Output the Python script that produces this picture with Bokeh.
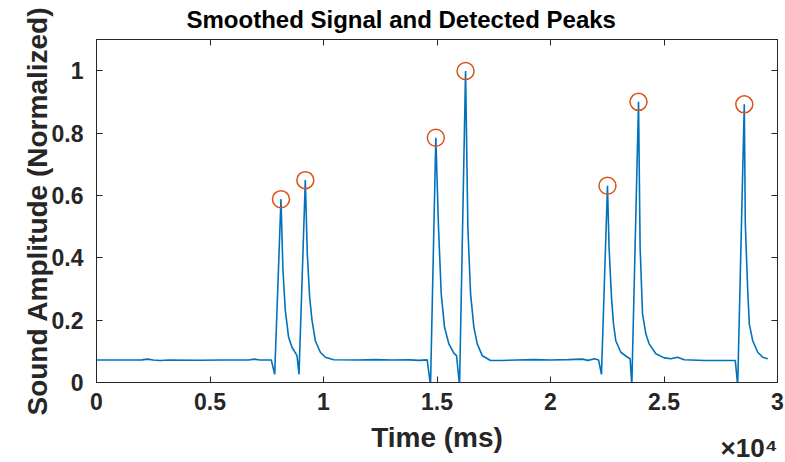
from bokeh.plotting import figure
from bokeh.models import (LinearAxis, FixedTicker, CustomJSTickFormatter, Range1d, Title)
from bokeh.embed import file_html
from bokeh.resources import INLINE

# ---- data ----
t_ms = [0, 1200, 2000, 2250, 2500, 2800, 3200, 4500, 5500, 6700, 6950, 7200, 7700,
        7850, 8127, 8215, 8317, 8463, 8612, 8833, 8921,
        9199, 9287, 9390, 9495, 9640, 9861, 10081, 10449,
        11500, 12300, 13000, 13800, 14200, 14568,
        14714, 14948, 15067, 15186, 15332, 15522, 15742, 15861, 15994,
        16258, 16360, 16479, 16625, 16773, 16994, 17360, 17802,
        18500, 19300, 20000, 20800, 21400, 21650, 21950, 22120,
        22245, 22510, 22580, 22687, 22775, 22876, 23097, 23392, 23507, 23582,
        23878, 23948, 24054, 24200, 24345, 24641, 25008, 25303, 25598, 25892,
        26775, 28141,
        28246, 28537, 28582, 28688, 28758, 28908, 29129, 29349, 29570]
amp = [0.072, 0.072, 0.0725, 0.075, 0.072, 0.0705, 0.072, 0.0715, 0.072, 0.072, 0.075, 0.072, 0.072,
       0.026, 0.588, 0.359, 0.231, 0.145, 0.113, 0.086, 0.026,
       0.649, 0.412, 0.273, 0.199, 0.134, 0.097, 0.081, 0.073,
       0.072, 0.0735, 0.072, 0.0725, 0.071, 0.0727,
       -0.01, 0.785, 0.497, 0.284, 0.177, 0.124, 0.094, 0.086, -0.01,
       0.999, 0.497, 0.284, 0.177, 0.124, 0.086, 0.0705, 0.0705,
       0.072, 0.0735, 0.072, 0.0735, 0.075, 0.071, 0.076, 0.072,
       0.026, 0.631, 0.433, 0.273, 0.188, 0.134, 0.097, 0.081, 0.076, -0.01,
       0.900, 0.433, 0.220, 0.156, 0.124, 0.092, 0.079, 0.076, 0.081, 0.073,
       0.0705, 0.0705,
       -0.01, 0.892, 0.508, 0.295, 0.188, 0.134, 0.097, 0.081, 0.076]

peak_t = [8127, 9199, 14948, 16258, 22510, 23878, 28537]
peak_amp = [0.588, 0.649, 0.785, 0.999, 0.631, 0.900, 0.892]

x_tick_vals = [0, 5000, 10000, 15000, 20000, 25000, 30000]
x_tick_labels = ["0", "0.5", "1", "1.5", "2", "2.5", "3"]
y_tick_vals = [0, 0.2, 0.4, 0.6, 0.8, 1.0]
y_tick_labels = ["0", "0.2", "0.4", "0.6", "0.8", "1"]

FONT = "Liberation Sans"
AX = "#262626"

p = figure(width=785, height=462, output_backend="svg", toolbar_location=None,
           x_range=Range1d(0, 30000), y_range=Range1d(0, 1.1),
           min_border_left=96, min_border_right=8, min_border_top=39, min_border_bottom=80,
           title="Smoothed Signal and Detected Peaks",
           x_axis_label="Time (ms)", y_axis_label="Sound Amplitude (Normalized)")

p.title.text_font = FONT
p.title.text_font_style = "bold"
p.title.text_font_size = "24px"
p.title.text_color = "#000000"
p.title.align = "left"
p.title.offset = 90
p.title.vertical_align = "top"
p.title.standoff = 9

p.outline_line_color = AX
p.outline_line_width = 1
p.xgrid.visible = False
p.ygrid.visible = False
p.background_fill_color = "white"
p.border_fill_color = "white"

def style_axis(ax, vals, labels, show_labels):
    ax.ticker = FixedTicker(ticks=vals)
    ax.formatter = CustomJSTickFormatter(args=dict(labs=labels if show_labels else [""] * len(labels)),
                                         code="return labs[index];")
    ax.major_tick_in = 6
    ax.major_tick_out = 0
    ax.minor_tick_in = 0
    ax.minor_tick_out = 0
    ax.axis_line_color = AX
    ax.major_tick_line_color = AX
    ax.major_label_text_font = FONT
    ax.major_label_text_font_style = "bold"
    ax.major_label_text_color = AX
    ax.axis_label_text_font = FONT
    ax.axis_label_text_font_style = "bold"
    ax.axis_label_text_color = AX
    if show_labels:
        ax.major_label_text_font_size = "23px"
        ax.axis_label_text_font_size = "28px"
    else:
        ax.major_label_text_font_size = "0px"
        ax.major_label_standoff = 0

xa = p.xaxis[0]
ya = p.yaxis[0]
style_axis(xa, x_tick_vals, x_tick_labels, True)
style_axis(ya, y_tick_vals, y_tick_labels, True)
xa.major_label_standoff = 10
xa.axis_label_standoff = 9
ya.major_label_standoff = 13
ya.axis_label_standoff = -4

top_ax = LinearAxis()
right_ax = LinearAxis()
style_axis(top_ax, x_tick_vals, x_tick_labels, False)
style_axis(right_ax, y_tick_vals, y_tick_labels, False)
p.add_layout(top_ax, "above")
p.add_layout(right_ax, "right")

p.line(t_ms, amp, line_color="#0072BD", line_width=1.6)
p.scatter(peak_t, peak_amp, marker="circle", size=17, fill_color=None,
          line_color="#D95319", line_width=1.5)

# axis exponent, drawn as a right-aligned title under the x axis
exp_title = Title(text="\u00d710\u2074", align="right", offset=0, standoff=-46,
                  vertical_align="top",
                  text_font=FONT, text_font_style="bold", text_font_size="26px",
                  text_color=AX)
p.add_layout(exp_title, "below")

open("out.html", "w").write(file_html(p, INLINE))
